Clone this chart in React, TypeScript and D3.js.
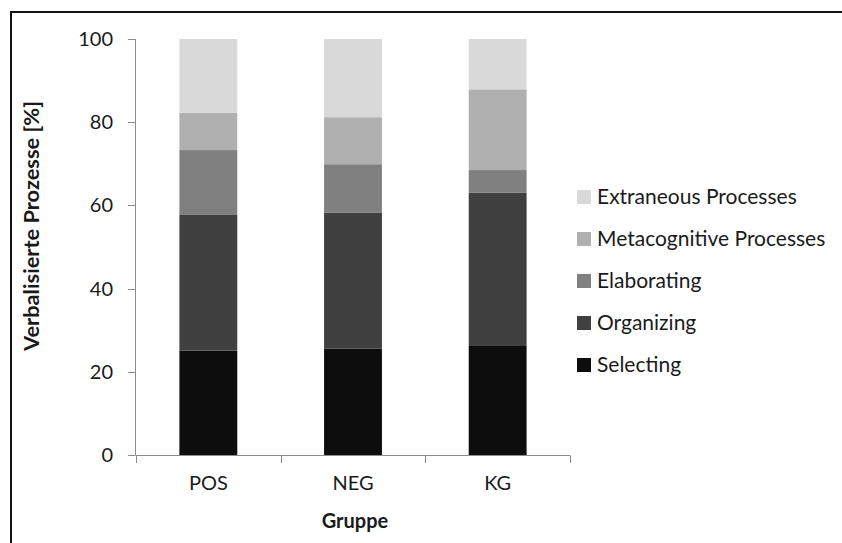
import React from "react";
import * as d3 from "d3";

const categories = ["POS", "NEG", "KG"];
const seriesNames = ["Selecting", "Organizing", "Elaborating", "Metacognitive Processes", "Extraneous Processes"];
const selecting = [25.1, 25.6, 26.2];
const organizing = [32.6, 32.7, 36.9];
const elaborating = [15.6, 11.6, 5.4];
const metacognitive = [9.0, 11.3, 19.4];
const extraneous = [17.7, 18.8, 12.1];
const colors = ["#0d0d0d", "#404040", "#808080", "#b0b0b0", "#d9d9d9"];
const yTicks = [0, 20, 40, 60, 80, 100];

const W = 842;
const H = 543;
const FONT = "Lato, 'Open Sans', sans-serif";

export default function App() {
  const rows = categories.map((c, i) => ({
    cat: c,
    Selecting: selecting[i],
    Organizing: organizing[i],
    Elaborating: elaborating[i],
    "Metacognitive Processes": metacognitive[i],
    "Extraneous Processes": extraneous[i],
  }));
  const stack = d3.stack<any>().keys(seriesNames);
  const layers = stack(rows);

  const x = d3.scaleBand().domain(categories).range([136, 570]).paddingInner(0.6).paddingOuter(0.3);
  const y = d3.scaleLinear().domain([0, 100]).range([455, 39]);
  const axisColor = "#8c8c8c";
  const textColor = "#1a1a1a";

  const legendOrder = [...seriesNames].reverse();

  return (
    <svg width={W} height={H} style={{ position: "absolute", left: 0, top: 0, background: "#fff" }}>
      <rect x={0} y={0} width={W} height={H} fill="#fff" />
      {/* outer border */}
      <path d={`M11,${H + 5} L11,12 L${W + 5},12`} fill="none" stroke="#111" strokeWidth={2} />

      {/* bars */}
      {layers.map((layer, li) => (
        <g key={layer.key} fill={colors[li]}>
          {layer.map((d, i) => (
            <rect
              key={i}
              x={x(categories[i])!}
              width={x.bandwidth()}
              y={y(d[1])}
              height={y(d[0]) - y(d[1])}
            />
          ))}
        </g>
      ))}

      {/* y axis */}
      <line x1={135.5} x2={135.5} y1={y(100)} y2={y(0)} stroke={axisColor} strokeWidth={1} />
      {yTicks.map((t) => (
        <g key={t}>
          <line x1={128} x2={135.5} y1={Math.round(y(t)) + 0.5} y2={Math.round(y(t)) + 0.5} stroke={axisColor} />
          <text x={113} y={y(t)} dy="0.35em" textAnchor="end" fontFamily={FONT} fontSize={20} fill={textColor}>
            {t}
          </text>
        </g>
      ))}

      {/* x axis */}
      <line x1={135.5} x2={570} y1={455.5} y2={455.5} stroke={axisColor} />
      {[0, 1, 2, 3].map((i) => {
        const xx = Math.round(136 + x.step() * i) + 0.5;
        return <line key={i} x1={xx} x2={xx} y1={455.5} y2={463} stroke={axisColor} />;
      })}
      {categories.map((c) => (
        <text
          key={c}
          x={x(c)! + x.bandwidth() / 2}
          y={490}
          textAnchor="middle"
          fontFamily={FONT}
          fontSize={20}
          fill={textColor}
        >
          {c}
        </text>
      ))}

      {/* axis titles */}
      <text x={355} y={528} textAnchor="middle" fontFamily={FONT} fontSize={20} fontWeight="bold" fill={textColor}>
        Gruppe
      </text>
      <text
        transform={`translate(39,226) rotate(-90)`}
        textAnchor="middle"
        fontFamily={FONT}
        fontSize={21}
        fontWeight="bold"
        fill={textColor}
        textLength={250}
        lengthAdjust="spacingAndGlyphs"
      >
        Verbalisierte Prozesse [%]
      </text>

      {/* legend */}
      {legendOrder.map((name, i) => {
        const yy = 197 + i * 42;
        const ci = seriesNames.indexOf(name);
        return (
          <g key={name}>
            <rect x={577} y={yy - 7} width={14} height={14} fill={colors[ci]} />
            <text x={597} y={yy} dy="0.35em" fontFamily={FONT} fontSize={21} fill={textColor}>
              {name}
            </text>
          </g>
        );
      })}
    </svg>
  );
}
